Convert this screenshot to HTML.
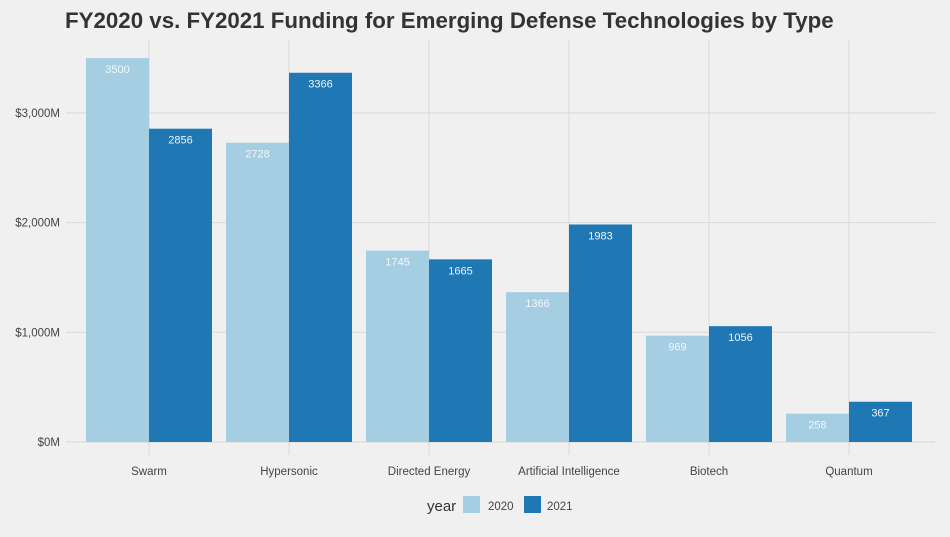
<!DOCTYPE html>
<html><head><meta charset="utf-8"><style>
body{margin:0;background:#f0f0f0;width:950px;height:532px;overflow:hidden;font-family:"Liberation Sans",sans-serif}
</style></head><body>
<svg width="950" height="532" xmlns="http://www.w3.org/2000/svg">
<rect width="950" height="532" fill="#f0f0f0"/>
<text x="65" y="28" font-size="22.3" font-weight="bold" fill="#333">FY2020 vs. FY2021 Funding for Emerging Defense Technologies by Type</text>
<g id="grid"></g><g id="bars"></g><g id="labels"></g><g id="axes"></g>
<g>
<text x="427" y="511" font-size="15" fill="#333">year</text>
<rect x="463" y="496" width="17" height="17" fill="#a6cee3"/>
<text x="488" y="510" font-size="11.5" fill="#444">2020</text>
<rect x="524" y="496" width="17" height="17" fill="#1f78b4"/>
<text x="547" y="510" font-size="11.5" fill="#444">2021</text>
</g>
</svg>
<script>
const categories=["Swarm","Hypersonic","Directed Energy","Artificial Intelligence","Biotech","Quantum"];
const values2020=[3500,2728,1745,1366,969,258];
const values2021=[2856,3366,1665,1983,1056,367];
const yTicks=[0,1000,2000,3000];
const yTickLabels=["$0M","$1,000M","$2,000M","$3,000M"];
const NS="http://www.w3.org/2000/svg";
const left=79,step=140,bw=63,y0=442,pxPer=109.7/1000;
const y=v=>y0-v*pxPer;
const xc=i=>left+step*i+step/2;
function el(tag,attrs,parent,txt){const e=document.createElementNS(NS,tag);for(const k in attrs)e.setAttribute(k,attrs[k]);if(txt!==undefined)e.textContent=txt;document.getElementById(parent).appendChild(e);return e;}
yTicks.forEach((t,i)=>{
  const g=el('line',{x1:66,x2:935,y1:y(t),y2:y(t),stroke:'#d9d9d9','stroke-width':1},'grid');
  
  
  const l=el('text',{x:60,y:y(t)+4,'font-size':11.5,fill:'#444','text-anchor':'end'},'axes',yTickLabels[i]);
  
  
});
categories.forEach((c,i)=>{
  const g=el('line',{x1:xc(i),x2:xc(i),y1:40,y2:455,stroke:'#d9d9d9','stroke-width':1},'grid');
  
  
  const l=el('text',{x:xc(i),y:475,'font-size':11.5,fill:'#444','text-anchor':'middle'},'axes',c);
  
  
  [[values2020[i],'#a6cee3',xc(i)-bw,'2020'],[values2021[i],'#1f78b4',xc(i),'2021']].forEach(([v,col,x,yr])=>{
    const b=el('rect',{x:x,y:y(v),width:bw,height:y0-y(v),fill:col},'bars');
    
    
    const t=el('text',{x:x+bw/2,y:y(v)+15,'font-size':11,fill:yr==='2020'?'#f2f7fa':'#eef4f9','text-anchor':'middle'},'labels',String(v));
    
    
  });
});
</script>
</body></html>
